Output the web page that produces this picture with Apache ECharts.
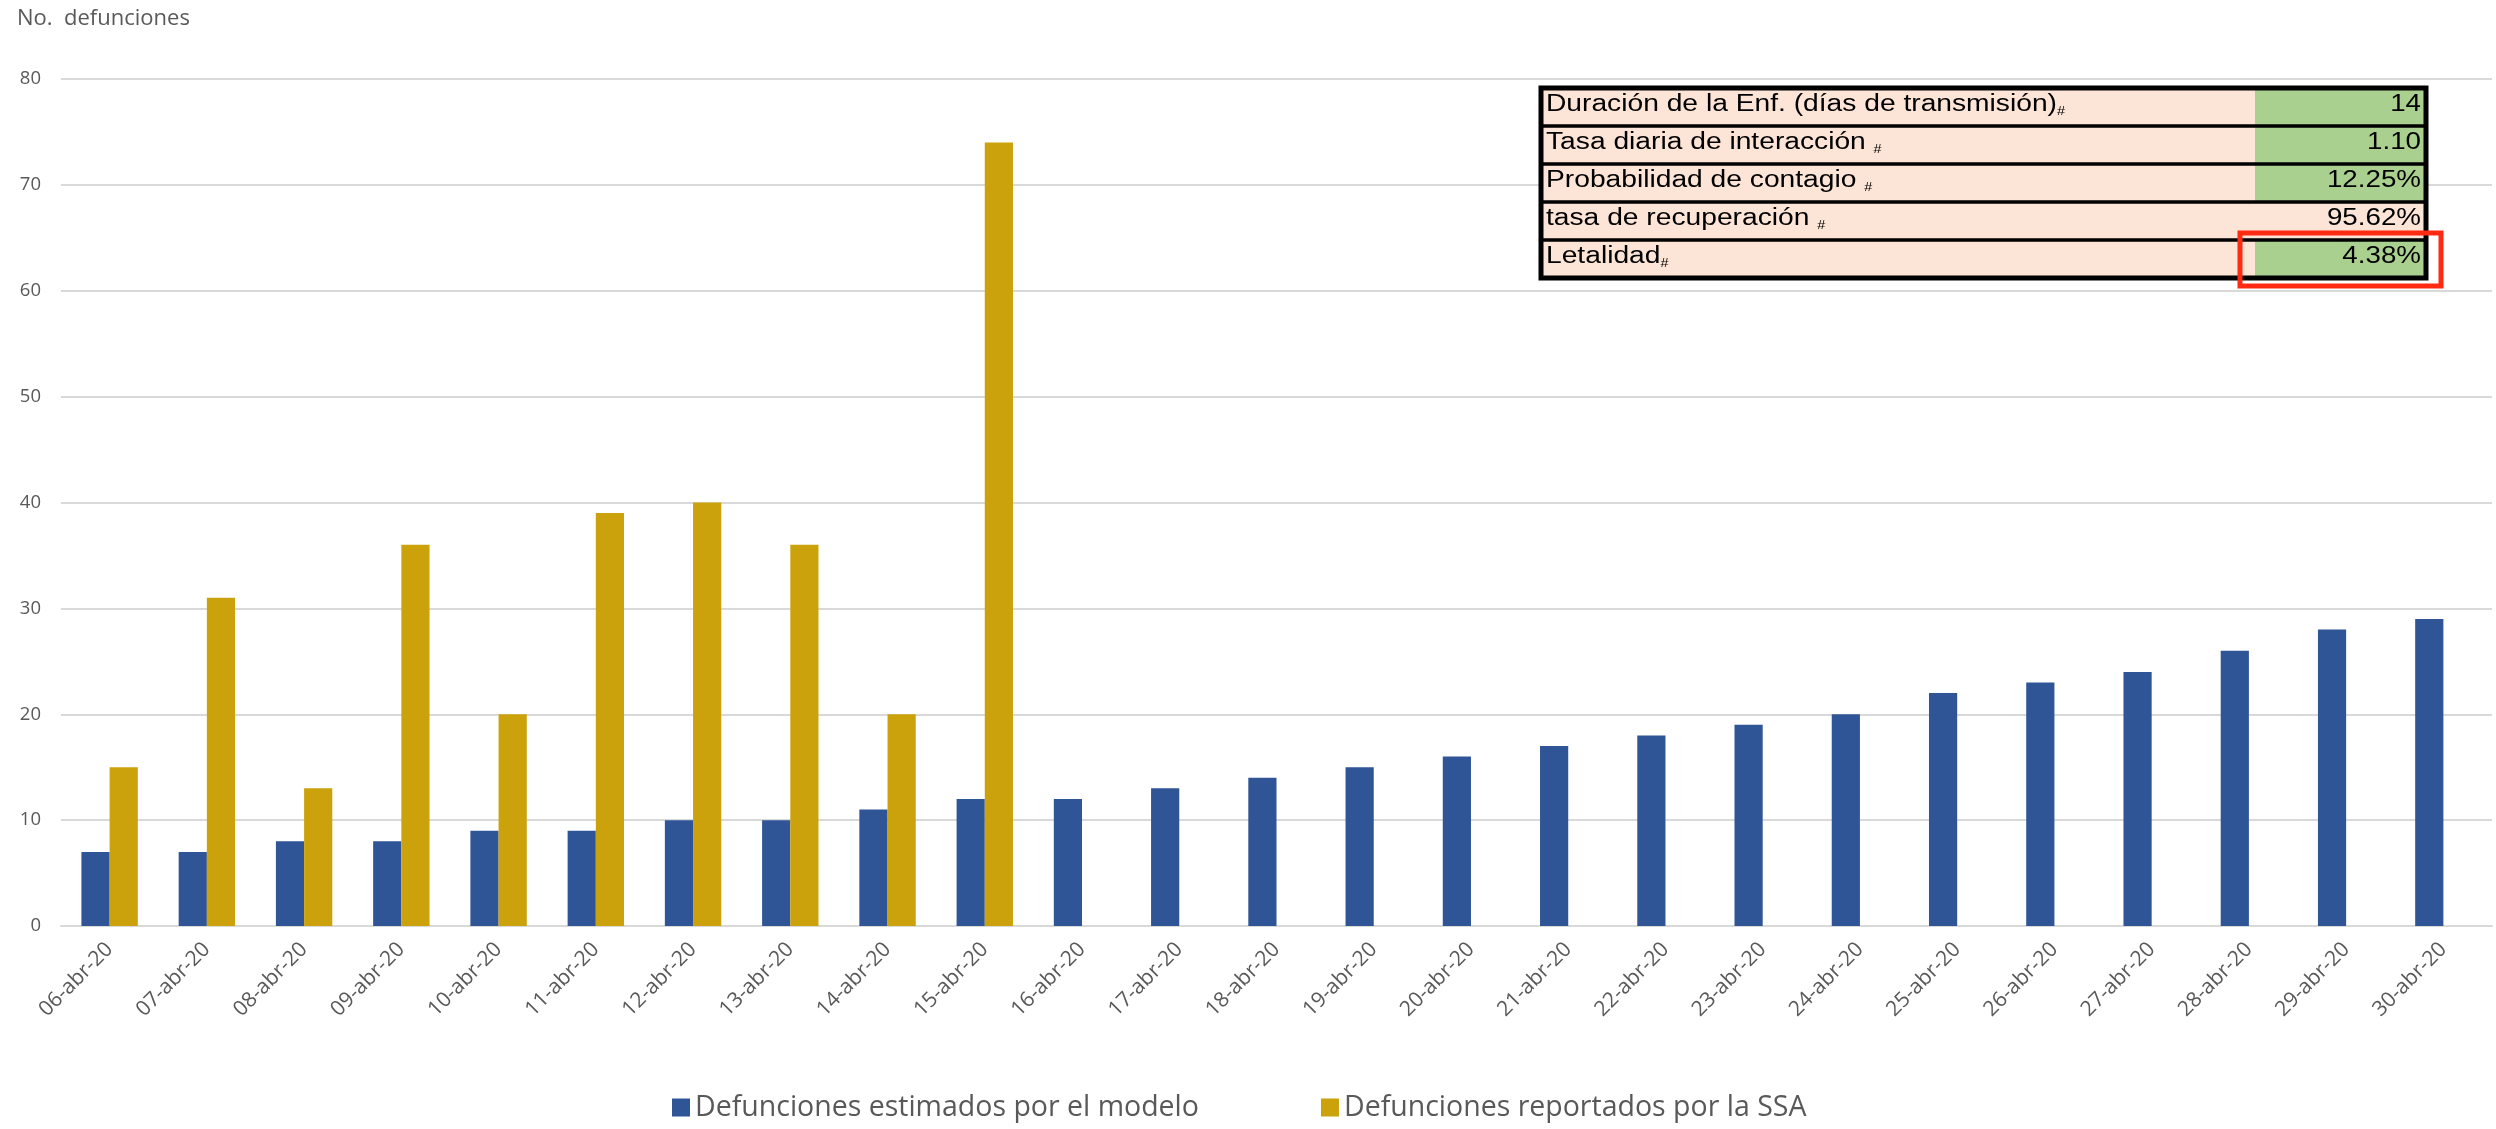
<!DOCTYPE html>
<html>
<head>
<meta charset="utf-8">
<style>
  html, body { margin: 0; padding: 0; background: #fff; }
  #chart { width: 2496px; height: 1129px; }
</style>
</head>
<body>
<div id="chart"></div>
<script src="https://cdn.jsdelivr.net/npm/echarts@6/dist/echarts.min.js"></script>
<script>
  // Dates on the x axis.
  const dates = ['06-abr-20', '07-abr-20', '08-abr-20', '09-abr-20', '10-abr-20', '11-abr-20',
    '12-abr-20', '13-abr-20', '14-abr-20', '15-abr-20', '16-abr-20', '17-abr-20', '18-abr-20',
    '19-abr-20', '20-abr-20', '21-abr-20', '22-abr-20', '23-abr-20', '24-abr-20', '25-abr-20',
    '26-abr-20', '27-abr-20', '28-abr-20', '29-abr-20', '30-abr-20'];

  // Model estimate.
  const estimados = [7, 7, 8, 8, 9, 9, 10, 10, 11, 12, 12, 13, 14, 15, 16, 17, 18, 19, 20, 22,
    23, 24, 26, 28, 29];

  // Reported by SSA (only first 10 days).
  const reportados = [15, 31, 13, 36, 20, 39, 40, 36, 20, 74, null, null, null, null, null,
    null, null, null, null, null, null, null, null, null, null];

  // Parameter table.
  const paramNames = ['Duración de la Enf. (días de transmisión)', 'Tasa diaria de interacción ',
    'Probabilidad de contagio ', 'tasa de recuperación ', 'Letalidad'];
  const paramValues = ['14', '1.10', '12.25%', '95.62%', '4.38%'];
  const paramGreen = [true, true, true, false, true];

  const seriesNames = ['Defunciones estimados por el modelo', 'Defunciones reportados por la SSA'];

  function buildTable() {
    const left = 1541, right = 2426, top = 88, rowH = 38, valX = 2255;
    const Z = 100;
    const els = [];
    paramNames.forEach(function (name, i) {
      const y = top + i * rowH;
      els.push({
        type: 'rect', z: Z, shape: { x: left, y: y, width: right - left, height: rowH },
        style: { fill: '#FCE4D6' }
      });
      if (paramGreen[i]) {
        els.push({
          type: 'rect', z: Z, shape: { x: valX, y: y, width: right - valX, height: rowH },
          style: { fill: '#A9D08E' }
        });
      }
      els.push({
        type: 'text', z: Z + 1, x: left + 5, y: y + 17, scaleX: 1.2,
        style: {
          text: '{a|' + name + '}{s|#}',
          verticalAlign: 'middle',
          rich: {
            a: { fontFamily: 'Liberation Sans', fontSize: 23.5, fill: '#000', lineHeight: 26 },
            s: { fontFamily: 'Liberation Sans', fontSize: 12, fill: '#000', lineHeight: 13, verticalAlign: 'bottom' }
          }
        }
      });
      els.push({
        type: 'text', z: Z + 1, x: right - 5, y: y + 17, scaleX: 1.18,
        style: {
          text: paramValues[i], align: 'right', verticalAlign: 'middle',
          fontFamily: 'Liberation Sans', fontSize: 23.5, fill: '#000'
        }
      });
      if (i > 0) {
        els.push({
          type: 'line', z: Z + 2, shape: { x1: left, y1: y, x2: right, y2: y },
          style: { stroke: '#000', lineWidth: 3.5 }
        });
      }
    });
    els.push({
      type: 'rect', z: Z + 2,
      shape: { x: left, y: top, width: right - left, height: rowH * paramNames.length },
      style: { fill: null, stroke: '#000', lineWidth: 5 }
    });
    // Red highlight box round the last value.
    els.push({
      type: 'rect', z: Z + 3, shape: { x: 2240, y: 233, width: 201, height: 53 },
      style: { fill: null, stroke: '#FF2A12', lineWidth: 5 }
    });
    return els;
  }

  const chart = echarts.init(document.getElementById('chart'));
  chart.setOption({
    animation: false,
    backgroundColor: '#fff',
    textStyle: { fontFamily: 'Open Sans' },
    grid: { left: 61, right: 4, top: 79, bottom: 203, containLabel: false },
    legend: {
      top: 1088, left: 667,
      itemWidth: 18, itemHeight: 18, itemGap: 122,
      icon: 'rect',
      textStyle: { fontFamily: 'Open Sans', fontSize: 28.5, color: '#595959' },
      data: seriesNames
    },
    xAxis: {
      type: 'category',
      data: dates,
      axisLine: { lineStyle: { color: '#D9D9D9', width: 2 } },
      axisTick: { show: false },
      axisLabel: { rotate: 45, fontSize: 21, color: '#595959', margin: 20, interval: 0 }
    },
    yAxis: {
      type: 'value',
      min: 0, max: 80, interval: 10,
      name: 'No.  defunciones',
      nameLocation: 'end',
      nameTextStyle: { fontSize: 22, color: '#595959', align: 'left', padding: [0, 0, 34, -44] },
      axisLine: { show: false },
      axisTick: { show: false },
      axisLabel: { fontSize: 18.5, color: '#595959', margin: 20 },
      splitLine: { lineStyle: { color: '#D9D9D9', width: 2 } }
    },
    series: [
      {
        name: seriesNames[0], type: 'bar', data: estimados,
        itemStyle: { color: '#2F5597' }, barGap: '0%', barCategoryGap: '42%'
      },
      {
        name: seriesNames[1], type: 'bar', data: reportados,
        itemStyle: { color: '#CBA20B' }, barGap: '0%', barCategoryGap: '42%'
      }
    ],
    graphic: buildTable()
  });
</script>
</body>
</html>
